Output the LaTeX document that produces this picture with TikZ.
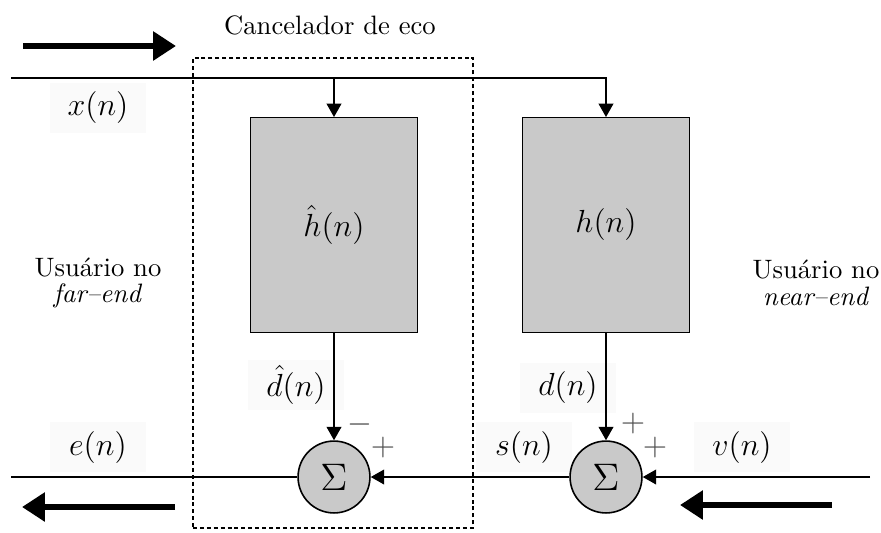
\documentclass[tikz,border=0pt]{standalone}
\usepackage{amsmath, amssymb}
\usepackage{xcolor}
\usepackage{tikz}
\usetikzlibrary{arrows.meta}
\tikzset{
  filt/.style={rectangle, draw, fill=black!21, minimum width=62.7pt, minimum height=80.7pt, inner sep=0pt, font=\large},
  summ/.style={circle, draw, semithick, fill=black!21, minimum size=27pt, inner sep=0pt, font=\Large},
  lbl/.style={rectangle, fill=black!2, minimum width=36.4pt, minimum height=18.8pt, inner sep=1pt, font=\large},
  sgn/.style={text=black!70, inner sep=0pt, font=\large},
  arr/.style={-{Triangle[length=5pt, width=5.5pt]}, semithick},
  bigarr/.style={-{Triangle[length=8.6pt, width=10.5pt]}, line width=2.2pt},
}

\begin{document}
\begin{tikzpicture}[x=0.0132cm, y=-0.0132cm]
  \useasboundingbox (0,0) rectangle (881,532);

  % Signal labels (first, so wires run over their backdrops)
  \node[lbl] at (98,108) (xlab) {$x(n)$};
  \node[lbl] at (98,447) (elab) {$e(n)$};
  \node[lbl] at (296,385) (dhlab) {$\hat{d}(n)$};
  \node[lbl] at (568,388) (dlab) {$d(n)$};
  \node[lbl] at (524,447) (slab) {$s(n)$};
  \node[lbl] at (742,447) (vlab) {$v(n)$};

  %% === Echo canceller frame ===
  \node[draw, dashed, dash pattern=on 1.5pt off 1.1pt, semithick, minimum width=105.2pt,
        minimum height=176.5pt, inner sep=0pt] at (333,293) (canc) {};
  \node at (330,25) (title) {Cancelador de eco};

  % Filters
  \node[filt] at (334,225) (hh) {$\hat{h}(n)$};
  \node[filt] at (606,225) (h) {$h(n)$};

  % Adders
  \node[summ] at (334,477) (s1) {$\Sigma$};
  \node[summ] at (606,477) (s2) {$\Sigma$};

  % Line ends
  \coordinate (xin) at (11,78);
  \coordinate (eout) at (11,477);
  \coordinate (vin) at (870,477);

  % Signals
  \draw[arr] (xin) -| (h.north);
  \draw[arr] (xin -| hh.north) -- (hh.north);
  \draw[arr] (hh.south) -- (s1.north);
  \draw[arr] (h.south) -- (s2.north);
  \draw[arr] (vin) -- (s2.east);
  \draw[arr] (s2.west) -- (s1.east);
  \draw[semithick] (s1.west) -- (eout);

  % Signs at the adders
  \node[sgn] at (360,425) (m1) {$-$};
  \node[sgn] at (383,448) (p1) {$+$};
  \node[sgn] at (633,424) (p2) {$+$};
  \node[sgn] at (655,448) (p3) {$+$};

  % Users
  \node[align=center] at (98,283) (far) {Usu\'ario no\\[-2pt] \textit{far--end}};
  \node[align=center] at (816,283) (near) {Usu\'ario no\\[-2pt] \textit{near--end}};

  % Direction arrows
  \coordinate (ta) at (23,46);   \coordinate (tb) at (176,46);
  \coordinate (la) at (175,507); \coordinate (lb) at (22,507);
  \coordinate (ra) at (832,505); \coordinate (rb) at (680,505);
  \draw[bigarr] (ta) -- (tb);
  \draw[bigarr] (la) -- (lb);
  \draw[bigarr] (ra) -- (rb);

\end{tikzpicture}
\end{document}
